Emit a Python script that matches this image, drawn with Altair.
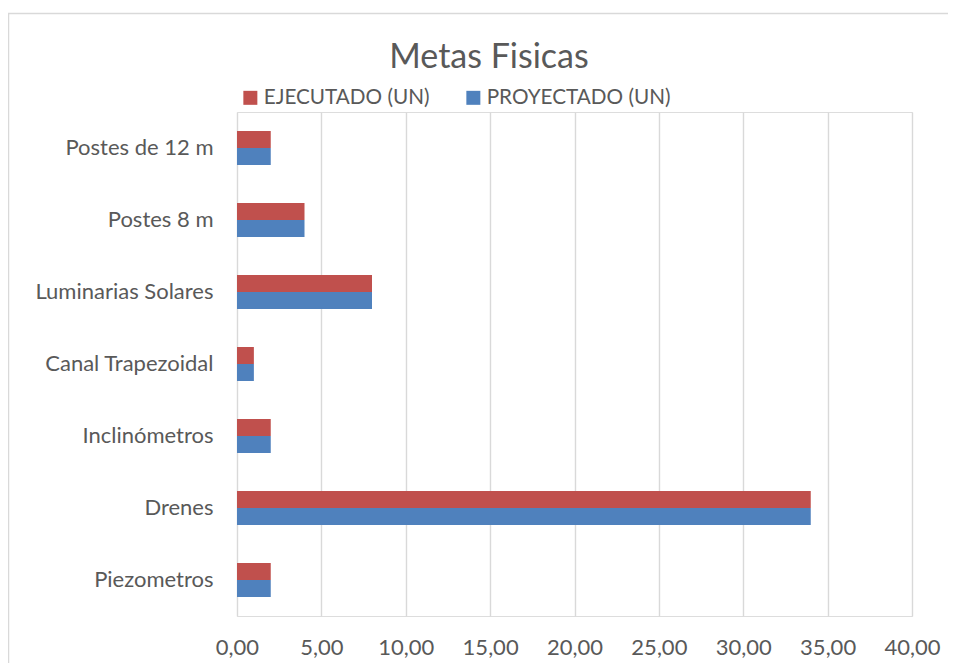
import altair as alt
import pandas as pd

categories = ["Postes de 12 m", "Postes 8 m", "Luminarias Solares", "Canal Trapezoidal",
              "Inclinómetros", "Drenes", "Piezometros"]
ejecutado = [2, 4, 8, 1, 2, 34, 2]
proyectado = [2, 4, 8, 1, 2, 34, 2]
series = ["EJECUTADO (UN)", "PROYECTADO (UN)"]
colors = ["#C0504D", "#4F81BD"]
x_ticks = [0, 5, 10, 15, 20, 25, 30, 35, 40]
title_text = ["Metas Fisicas"]

rows = []
for c, e, p in zip(categories, ejecutado, proyectado):
    rows.append({"cat": c, "serie": series[0], "val": e})
    rows.append({"cat": c, "serie": series[1], "val": p})
df = pd.DataFrame(rows)

FONT = "Lato"
TXT = "#595959"
GRID = "#D9D9D9"

bars = alt.Chart(df).mark_bar().encode(
    x=alt.X("val:Q", scale=alt.Scale(domain=[0, 40], nice=False, zero=True),
            axis=alt.Axis(values=x_ticks, title=None, grid=True, gridColor=GRID, gridWidth=1.4,
                          ticks=False, domain=False, labelPadding=21, labelFontSize=22,
                          labelColor=TXT, labelFont=FONT, labelFlush=False, labelOverlap=False,
                          labelExpr="replace(format(datum.value, '.2f'), '.', ',')")),
    y=alt.Y("cat:N", sort=categories,
            scale=alt.Scale(paddingInner=0.528, paddingOuter=0.264),
            axis=alt.Axis(title=None, ticks=False, domain=False, grid=False, labelPadding=24,
                          labelFontSize=22, labelColor=TXT, labelFont=FONT, labelLimit=400)),
    yOffset=alt.YOffset("serie:N", sort=series, scale=alt.Scale(paddingInner=0, paddingOuter=0)),
    color=alt.Color("serie:N", scale=alt.Scale(domain=series, range=colors),
                    legend=alt.Legend(title=None, orient="none", legendX=3, legendY=-25,
                                      direction="horizontal", symbolType="square", symbolSize=196,
                                      symbolStrokeWidth=0, labelFontSize=20.7, labelFont=FONT,
                                      labelColor=TXT, columnPadding=33, labelOffset=3, padding=0,
                                      labelLimit=400)),
)

border = alt.Chart(pd.DataFrame({"a": [0]})).mark_rect(fill=None, stroke=GRID, strokeWidth=1.5).encode(
    x=alt.value(-228.5), y=alt.value(-98.5), x2=alt.value(2000), y2=alt.value(2000)
)

title = alt.Chart(pd.DataFrame({"t": title_text})).mark_text(
    font=FONT, fontSize=34, color=TXT, align="center", baseline="alphabetic"
).encode(text="t:N", x=alt.value(252), y=alt.value(-44))

chart = alt.layer(border, bars, title).properties(
    width=675, height=504,
    autosize=alt.AutoSizeParams(type="none"),
    padding={"left": 229, "top": 104, "right": 36, "bottom": 47},
).configure_view(stroke=None).configure(background="white")

chart.save("out.html", embed_options={"renderer": "svg", "actions": False})
